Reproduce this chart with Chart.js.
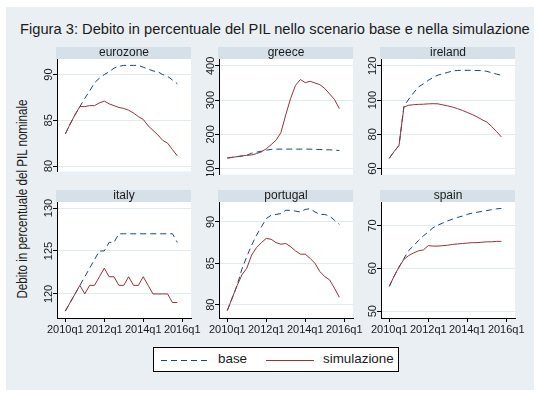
<!DOCTYPE html>
<html>
<head>
<meta charset="utf-8">
<script src="https://cdn.jsdelivr.net/npm/chart.js@4.4.1/dist/chart.umd.min.js"></script>
<style>
  body { margin: 0; background: #fff; width: 541px; height: 397px; overflow: hidden;
         font-family: "Liberation Sans", Arial, sans-serif; }
  #bg { position: absolute; left: 6px; top: 7px; width: 528px; height: 383px; background: #e9eff3; }
  #title { position: absolute; left: 20px; top: 21px; font-size: 14.7px; line-height: 17px; color: #1a1a1a; white-space: nowrap; }
  #ytitle { position: absolute; left: 22px; top: 199px; transform: translate(-50%, -50%) rotate(-90deg) scaleX(0.83);
            font-size: 14px; color: #1a1a1a; white-space: nowrap; }
  canvas { position: absolute; }
  #legend { position: absolute; left: 153px; top: 347px; width: 244px; height: 23px; background: #fff; border: 1px solid #000; }
  #legend span { position: absolute; top: 3px; font-size: 13.4px; line-height: 16px; color: #1a1a1a; }
  #legend svg { position: absolute; left: 0; top: 0; }
</style>
</head>
<body>
<div id="bg"></div>
<div id="title">Figura 3: Debito in percentuale del PIL nello scenario base e nella simulazione</div>
<div id="ytitle">Debito in percentuale del PIL nominale</div>
<div id="legend">
  <svg width="244" height="23">
    <line x1="7" y1="12.5" x2="55" y2="12.5" stroke="#1a476f" stroke-width="1" stroke-dasharray="6,4"/>
    <line x1="112" y1="12.5" x2="160" y2="12.5" stroke="#90353b" stroke-width="1"/>
  </svg>
  <span style="left:64px">base</span>
  <span style="left:169px">simulazione</span>
</div>

<script>
// quarterly observations, x = position in this list
const quarters = ['2010q1','2010q2','2010q3','2010q4','2011q1','2011q2','2011q3','2011q4',
                  '2012q1','2012q2','2012q3','2012q4','2013q1','2013q2','2013q3','2013q4',
                  '2014q1','2014q2','2014q3','2014q4','2015q1','2015q2','2015q3','2015q4'];

const xTickValues = [0, 8, 16, 24];
const xTickLabels = ['2010q1', '2012q1', '2014q1', '2016q1'];

const eurozoneBase = [83.5,84.6,85.6,86.5,87.4,88.2,89.1,89.6,90.0,90.3,90.7,90.9,91.0,91.0,91.0,91.0,90.8,90.6,90.4,90.3,90.0,89.8,89.4,89.0];
const eurozoneSim  = [83.5,84.6,85.6,86.5,86.5,86.6,86.6,86.9,87.1,86.8,86.6,86.4,86.3,86.1,85.8,85.4,85.1,84.4,83.9,83.4,82.8,82.5,81.8,81.1];
const eurozoneTicks = [80, 85, 90];

const greeceBase = [131,133,135,137,139,145,148,151,154,156,157,157,157,157,157,157,157,157,156,156,155,155,154,153];
const greeceSim  = [131,133,135,137,139,140,144,149,158,170,183,205,257,305,343,360,351,355,350,345,334,318,302,275];
const greeceTicks = [100, 200, 300, 400];

const irelandBase = [66,70,73.5,96.2,100.6,104.3,107.7,109.5,111.5,113.3,114.6,115.4,116.2,117.0,117.3,117.4,117.4,117.4,117.3,117.2,116.8,116.0,115.2,114.5];
const irelandSim  = [66,70,73.5,96.0,97.0,97.3,97.5,97.6,97.8,97.9,97.8,97.2,96.6,95.9,95.0,94.0,92.8,91.6,90.2,88.6,87.2,84.6,81.7,78.5];
const irelandTicks = [60, 80, 100, 120];

const italyBase = [118,119,120,121,122,123,124,125,125,126,126,127,127,127,127,127,127,127,127,127,127,127,127,126];
const italySim  = [118,119,120,121,120,121,121,122,123,122,122,121,121,122,121,121,122,121,120,120,120,120,119,119];
const italyTicks = [120, 125, 130];

const portugalBase = [79.3,80.8,82.3,84.3,85.8,87.2,88.4,89.4,90.4,90.8,90.9,91.0,91.4,91.4,91.3,91.2,91.5,91.6,91.2,90.9,90.9,90.7,90.2,89.7];
const portugalSim  = [79.3,80.8,82.3,83.6,84.4,86.0,86.9,87.5,88.0,87.9,87.5,87.3,87.4,87.0,86.5,86.1,86.1,85.6,85.0,84.0,83.4,83.0,82.0,80.9];
const portugalTicks = [80, 85, 90];

const spainBase = [55.8,58.2,60.3,62.3,64.2,65.3,66.5,67.6,68.5,69.5,70.1,70.6,71.1,71.5,71.9,72.2,72.6,72.9,73.1,73.3,73.5,73.7,73.9,74.0];
const spainSim  = [55.8,58.2,60.3,62.1,63.0,63.6,64.1,64.3,65.3,65.2,65.2,65.3,65.4,65.6,65.7,65.8,65.9,66.0,66.0,66.1,66.2,66.2,66.3,66.3];
const spainTicks = [50, 60, 70];

const colors = {
    base: '#1a476f',
    sim: '#90353b',
    strip: '#d5e0e8',
    grid: '#e3eaee',
    axis: '#000000',
    text: '#1a1a1a'
};

const FONT = '"Liberation Sans", Arial, sans-serif';
const YW = 26;        // width of y axis area
const STRIP = 12;     // height of the panel title strip
const PLOT_W = 134;

// panel title strip + white plot background
const stripPlugin = {
    id: 'strip',
    beforeDraw(chart, args, opts) {
        const { ctx, chartArea: a } = chart;
        ctx.save();
        ctx.fillStyle = '#fff';
        ctx.fillRect(a.left, a.top, a.right - a.left, a.bottom - a.top);
        ctx.fillStyle = colors.strip;
        ctx.fillRect(a.left - 1, a.top - STRIP, a.right - a.left + 1, STRIP);
        ctx.fillStyle = colors.text;
        ctx.font = '12px ' + FONT;
        ctx.textAlign = 'center';
        ctx.textBaseline = 'middle';
        ctx.fillText(opts.text, (a.left + a.right) / 2, a.top - STRIP / 2);
        ctx.restore();
    }
};

const measureCtx = document.createElement('canvas').getContext('2d');
measureCtx.font = '11px ' + FONT;

const makePanel = (name, base, sim, yTicks, yMin, yMax, left, top, plotH, showX) => {
    const canvas = document.createElement('canvas');
    const xH = showX ? 22 : 0;
    const w = YW + PLOT_W + 14;
    const h = STRIP + plotH + xH;
    canvas.width = w;
    canvas.height = h;
    canvas.style.left = (left - YW) + 'px';
    canvas.style.top = (top - STRIP) + 'px';
    document.body.appendChild(canvas);

    const widest = Math.max(...yTicks.map(t => measureCtx.measureText(String(t)).width));

    new Chart(canvas, {
        type: 'line',
        data: {
            datasets: [
                {
                    label: 'simulazione',
                    data: sim.map((v, i) => ({ x: i, y: v })),
                    borderColor: colors.sim,
                    borderWidth: 1,
                    pointRadius: 0,
                    tension: 0
                },
                {
                    label: 'base',
                    data: base.map((v, i) => ({ x: i, y: v })),
                    borderColor: colors.base,
                    borderWidth: 1,
                    borderDash: [6, 4],
                    pointRadius: 0,
                    tension: 0
                }
            ]
        },
        options: {
            responsive: false,
            animation: false,
            layout: { padding: { top: STRIP, right: 14, left: 0, bottom: 0 }, autoPadding: false },
            plugins: {
                legend: { display: false },
                tooltip: { enabled: false },
                strip: { text: name }
            },
            scales: {
                x: {
                    type: 'linear',
                    display: showX,
                    min: -1.7,
                    max: 25.8,
                    afterBuildTicks: (s) => { s.ticks = xTickValues.map(v => ({ value: v })); },
                    afterFit: (s) => { s.height = xH; },
                    grid: { drawOnChartArea: false, tickLength: 4, tickColor: colors.axis },
                    border: { color: colors.axis, width: 1 },
                    ticks: {
                        padding: 1,
                        maxRotation: 0,
                        color: colors.text,
                        font: { family: FONT, size: 11 },
                        callback: (v, i) => xTickLabels[i]
                    }
                },
                y: {
                    min: yMin,
                    max: yMax,
                    afterBuildTicks: (s) => { s.ticks = yTicks.map(v => ({ value: v })); },
                    afterFit: (s) => { s.width = YW; },
                    grid: { color: colors.grid, tickLength: 4, tickColor: colors.axis },
                    border: { color: colors.axis, width: 1 },
                    ticks: {
                        minRotation: 90,
                        maxRotation: 90,
                        crossAlign: 'center',
                        padding: 8 - 4 - widest / 2,
                        color: colors.text,
                        font: { family: FONT, size: 11 }
                    }
                }
            }
        },
        plugins: [stripPlugin]
    });
};

const cols = [57, 219, 381];
makePanel('eurozone', eurozoneBase, eurozoneSim, eurozoneTicks, 79.4, 91.7, cols[0], 59, 117, false);
makePanel('greece', greeceBase, greeceSim, greeceTicks, 82.7, 420, cols[1], 59, 117, false);
makePanel('ireland', irelandBase, irelandSim, irelandTicks, 56.5, 124, cols[2], 59, 117, false);
makePanel('italy', italyBase, italySim, italyTicks, 117.2, 130.7, cols[0], 202, 116, true);
makePanel('portugal', portugalBase, portugalSim, portugalTicks, 78.4, 92.4, cols[1], 202, 116, true);
makePanel('spain', spainBase, spainSim, spainTicks, 48.4, 75.5, cols[2], 202, 116, true);
</script>
</body>
</html>
